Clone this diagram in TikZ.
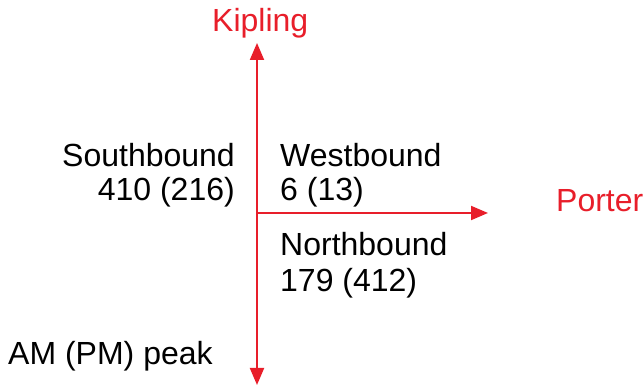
\documentclass[tikz,border=0pt]{standalone}
\usepackage{fontspec}
\setmainfont{Liberation Sans}
\usetikzlibrary{arrows.meta}
\definecolor{roadred}{RGB}{232,30,42}
\begin{document}
\begin{tikzpicture}[x=1pt,y=1pt,
  lbl/.style={inner sep=0pt, font=\fontsize{32}{36}\selectfont, text=black},
  road/.style={lbl, text=roadred},
  arr/.style={draw=roadred, line width=2pt, -{Triangle[width=14pt,length=17pt]}}]
\useasboundingbox (0,0) rectangle (643,387);
\coordinate (top) at (257,344);
\coordinate (bot) at (257,2);
\coordinate (ctr) at (257,174);
\coordinate (east) at (488,174);
\draw[arr, {Triangle[width=14pt,length=17pt]}-{Triangle[width=14pt,length=17pt]}] (bot) -- (top);
\draw[arr] (ctr) -- (east);
\node[road, anchor=base west] (kip) at (212,355) {Kipling};
\node[road, anchor=base west] (por) at (556,175) {Porter};
\node[lbl, anchor=base east] (sb) at (235,220) {Southbound};
\node[lbl, anchor=base east] (sbv) at (235,186) {410 (216)};
\node[lbl, anchor=base west] (wb) at (280,220) {Westbound};
\node[lbl, anchor=base west] (wbv) at (280,186) {6 (13)};
\node[lbl, anchor=base west] (nb) at (280,131) {Northbound};
\node[lbl, anchor=base west] (nbv) at (280,95) {179 (412)};
\node[lbl, anchor=base west] (pk) at (8,22) {AM (PM) peak};
\end{tikzpicture}
\end{document}
